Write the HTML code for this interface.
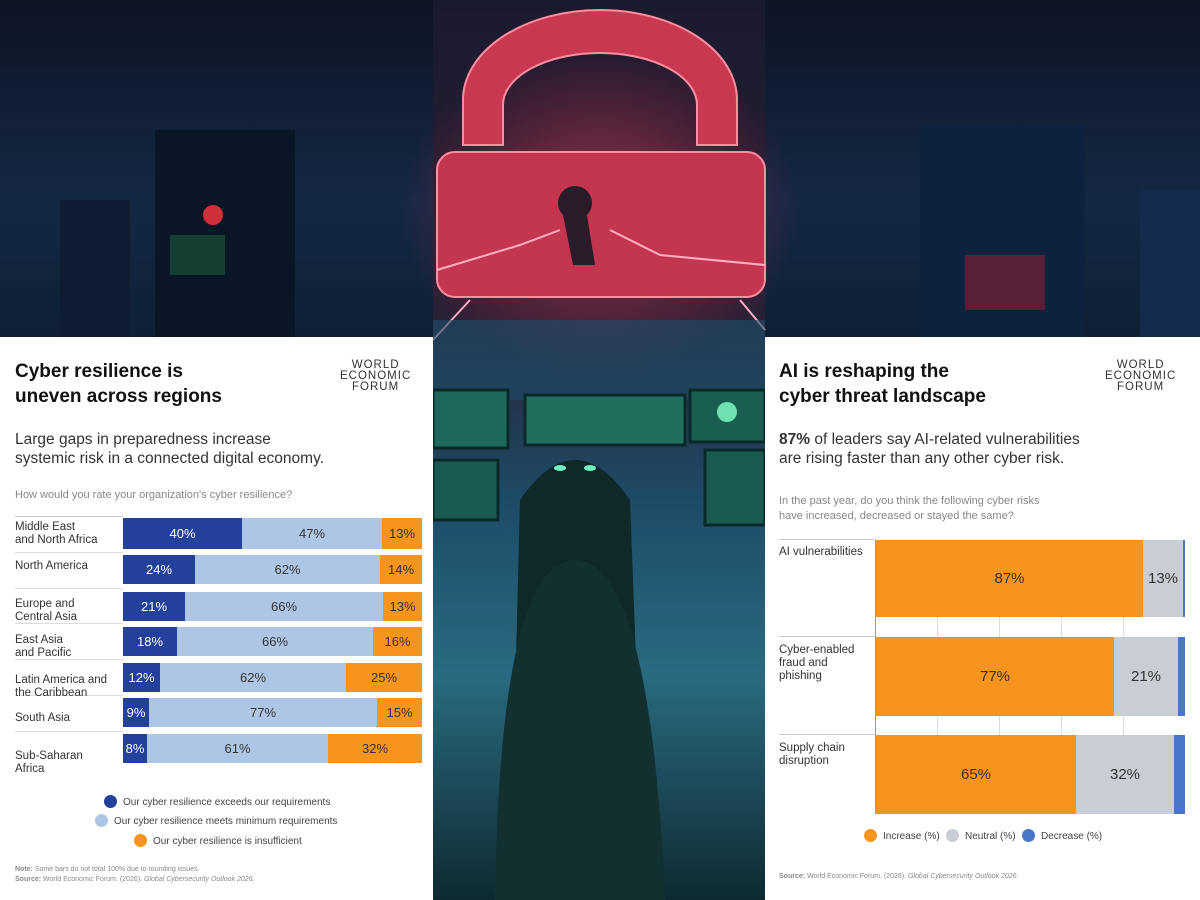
<!DOCTYPE html>
<html><head><meta charset="utf-8"><style>
*{margin:0;padding:0;box-sizing:border-box}
body{width:1200px;height:900px;position:relative;overflow:hidden;background:#0b1626;font-family:"Liberation Sans",sans-serif}
.panel{position:absolute;background:#fff;color:#111}
.abs{position:absolute}
.t{font-weight:bold;font-size:19px;line-height:25px;color:#111}
.sub{font-size:15.5px;line-height:19px;color:#333}
.q{font-size:11px;line-height:15px;color:#888}
.lbl{font-size:11.5px;line-height:13px;color:#333;position:absolute}
.seg{position:absolute;display:flex;align-items:center;justify-content:center;font-size:13px;color:#333}
.wef{position:absolute;font-size:11.5px;line-height:11px;letter-spacing:1px;text-align:center;color:#333}
.leg{font-size:10px;color:#444;position:absolute;white-space:nowrap}
.dot{display:inline-block;width:13px;height:13px;border-radius:50%;vertical-align:-3px;margin-right:6px}
.src{font-size:7px;color:#888;position:absolute;line-height:10px}
</style></head><body>
<svg class="abs" style="left:0;top:0" width="1200" height="900">
<defs>
<linearGradient id="sky" x1="0" y1="0" x2="0" y2="1"><stop offset="0" stop-color="#0e1424"/><stop offset="0.6" stop-color="#142844"/><stop offset="1" stop-color="#0f2034"/></linearGradient>
<linearGradient id="mid" x1="0" y1="0" x2="0" y2="1"><stop offset="0" stop-color="#1a1a2e"/><stop offset="0.35" stop-color="#2a2035"/><stop offset="0.55" stop-color="#1d4a66"/><stop offset="0.75" stop-color="#2a6a80"/><stop offset="1" stop-color="#0d2a30"/></linearGradient>
<radialGradient id="glow" cx="0.5" cy="0.5" r="0.5"><stop offset="0" stop-color="#ff5577" stop-opacity="0.5"/><stop offset="1" stop-color="#ff2244" stop-opacity="0"/></radialGradient>
</defs>
<rect width="1200" height="337" fill="url(#sky)"/>
<rect x="155" y="130" width="140" height="207" fill="#0a1626"/>
<rect x="60" y="200" width="70" height="137" fill="#0f1d33"/>
<rect x="920" y="125" width="165" height="212" fill="#0e2240"/>
<rect x="1140" y="190" width="60" height="147" fill="#132c4e"/>
<circle cx="213" cy="215" r="10" fill="#d0303a"/>
<rect x="170" y="235" width="55" height="40" fill="#1a5a3a" opacity="0.6"/>
<rect x="965" y="255" width="80" height="55" fill="#8a2030" opacity="0.6"/>
<rect x="433" y="0" width="332" height="900" fill="url(#mid)"/>
<ellipse cx="600" cy="210" rx="200" ry="170" fill="url(#glow)"/>
<path d="M463 145 L463 100 A137 90 0 0 1 737 100 L737 145 L697 145 L697 105 A97 52 0 0 0 503 105 L503 145 Z" fill="#c83850" stroke="#ff8fa0" stroke-width="2"/>
<rect x="437" y="152" width="328" height="145" rx="18" fill="#c43550" stroke="#ff8fa0" stroke-width="2"/>
<path d="M563 215 A17 17 0 1 1 587 215 L595 265 L573 265 Z" fill="#2a1a2a"/>
<path d="M437 270 L520 245 L560 230 M610 230 L660 255 L765 265 M470 300 L433 340 M740 300 L765 330" stroke="#ffb0c0" stroke-width="2" fill="none"/>
<rect x="433" y="320" width="332" height="80" fill="#1d4f6c" opacity="0.6"/>
<rect x="433" y="390" width="75" height="58" fill="#1d6a5c" stroke="#0a2a2a" stroke-width="3"/>
<rect x="525" y="395" width="160" height="50" fill="#1f6e5e" stroke="#0a2a2a" stroke-width="3"/>
<rect x="690" y="390" width="75" height="52" fill="#1a5e52" stroke="#0a2a2a" stroke-width="3"/>
<rect x="433" y="460" width="65" height="60" fill="#1a5a50" stroke="#0a2a2a" stroke-width="3"/>
<rect x="705" y="450" width="60" height="75" fill="#1a5a50" stroke="#0a2a2a" stroke-width="3"/>
<circle cx="727" cy="412" r="10" fill="#6fe0b0"/>
<path d="M510 900 L520 500 Q575 420 630 500 L645 900 Z" fill="#0f2828"/>
<path d="M495 900 Q500 560 575 560 Q650 560 665 900 Z" fill="#123030"/>
<ellipse cx="560" cy="468" rx="6" ry="3" fill="#6ff0c0"/><ellipse cx="590" cy="468" rx="6" ry="3" fill="#6ff0c0"/>
</svg>

<div class="panel" style="left:0;top:337px;width:433px;height:563px">
<div class="abs t" style="left:15px;top:22px">Cyber resilience is<br>uneven across regions</div>
<div class="wef" style="left:340px;top:23px">WORLD<br>ECONOMIC<br>FORUM</div>
<div class="abs sub" style="left:15px;top:93px">Large gaps in preparedness increase<br>systemic risk in a connected digital economy.</div>
<div class="abs q" style="left:15px;top:151px">How would you rate your organization's cyber resilience?</div>
</div>
<div class="panel" style="left:765px;top:337px;width:435px;height:563px">
<div class="abs t" style="left:14px;top:22px">AI is reshaping the<br>cyber threat landscape</div>
<div class="wef" style="left:340px;top:23px">WORLD<br>ECONOMIC<br>FORUM</div>
<div class="abs sub" style="left:14px;top:93px"><b>87%</b> of leaders say AI-related vulnerabilities<br>are rising faster than any other cyber risk.</div>
<div class="abs q" style="left:14px;top:157px">In the past year, do you think the following cyber risks<br>have increased, decreased or stayed the same?</div>
</div>

<!-- Left chart -->
<div class="abs" style="left:15px;top:516px;width:108px;border-top:1px solid #ccc"></div>
<div class="abs" style="left:15px;top:552px;width:108px;border-top:1px solid #ddd"></div>
<div class="abs" style="left:15px;top:588px;width:108px;border-top:1px solid #ddd"></div>
<div class="abs" style="left:15px;top:623px;width:108px;border-top:1px solid #ddd"></div>
<div class="abs" style="left:15px;top:659px;width:108px;border-top:1px solid #ddd"></div>
<div class="abs" style="left:15px;top:695px;width:108px;border-top:1px solid #ddd"></div>
<div class="abs" style="left:15px;top:731px;width:108px;border-top:1px solid #ddd"></div>
<div class="lbl" style="left:15px;top:521px">Middle East<br>and North Africa</div>
<div class="lbl" style="left:15px;top:560px">North America</div>
<div class="lbl" style="left:15px;top:598px">Europe and<br>Central Asia</div>
<div class="lbl" style="left:15px;top:634px">East Asia<br>and Pacific</div>
<div class="lbl" style="left:15px;top:674px">Latin America and<br>the Caribbean</div>
<div class="lbl" style="left:15px;top:712px">South Asia</div>
<div class="lbl" style="left:15px;top:750px">Sub-Saharan<br>Africa</div>

<div class="seg" style="left:123px;top:518px;width:119px;height:31px;background:#23409a;color:#fff">40%</div>
<div class="seg" style="left:242px;top:518px;width:140px;height:31px;background:#aec6e6">47%</div>
<div class="seg" style="left:382px;top:518px;width:40px;height:31px;background:#f7941d">13%</div>

<div class="seg" style="left:123px;top:555px;width:72px;height:29px;background:#23409a;color:#fff">24%</div>
<div class="seg" style="left:195px;top:555px;width:185px;height:29px;background:#aec6e6">62%</div>
<div class="seg" style="left:380px;top:555px;width:42px;height:29px;background:#f7941d">14%</div>

<div class="seg" style="left:123px;top:592px;width:62px;height:29px;background:#23409a;color:#fff">21%</div>
<div class="seg" style="left:185px;top:592px;width:198px;height:29px;background:#aec6e6">66%</div>
<div class="seg" style="left:383px;top:592px;width:39px;height:29px;background:#f7941d">13%</div>

<div class="seg" style="left:123px;top:627px;width:54px;height:29px;background:#23409a;color:#fff">18%</div>
<div class="seg" style="left:177px;top:627px;width:196px;height:29px;background:#aec6e6">66%</div>
<div class="seg" style="left:373px;top:627px;width:49px;height:29px;background:#f7941d">16%</div>

<div class="seg" style="left:123px;top:663px;width:37px;height:29px;background:#23409a;color:#fff">12%</div>
<div class="seg" style="left:160px;top:663px;width:186px;height:29px;background:#aec6e6">62%</div>
<div class="seg" style="left:346px;top:663px;width:76px;height:29px;background:#f7941d">25%</div>

<div class="seg" style="left:123px;top:698px;width:26px;height:29px;background:#23409a;color:#fff">9%</div>
<div class="seg" style="left:149px;top:698px;width:228px;height:29px;background:#aec6e6">77%</div>
<div class="seg" style="left:377px;top:698px;width:45px;height:29px;background:#f7941d">15%</div>

<div class="seg" style="left:123px;top:734px;width:24px;height:29px;background:#23409a;color:#fff">8%</div>
<div class="seg" style="left:147px;top:734px;width:181px;height:29px;background:#aec6e6">61%</div>
<div class="seg" style="left:328px;top:734px;width:94px;height:29px;background:#f7941d">32%</div>

<div class="leg" style="left:104px;top:795px"><span class="dot" style="background:#23409a"></span>Our cyber resilience exceeds our requirements</div>
<div class="leg" style="left:95px;top:814px"><span class="dot" style="background:#aec6e6"></span>Our cyber resilience meets minimum requirements</div>
<div class="leg" style="left:134px;top:834px"><span class="dot" style="background:#f7941d"></span>Our cyber resilience is insufficient</div>
<div class="src" style="left:15px;top:865px"><b>Note:</b> Some bars do not total 100% due to rounding issues.<br><b>Source:</b> World Economic Forum. (2026). <i>Global Cybersecurity Outlook 2026.</i></div>

<!-- Right chart -->
<div class="abs" style="left:779px;top:539px;width:96px;border-top:1px solid #ccc"></div>
<div class="abs" style="left:779px;top:636px;width:96px;border-top:1px solid #ccc"></div>
<div class="abs" style="left:779px;top:734px;width:96px;border-top:1px solid #ccc"></div>
<div class="lbl" style="left:779px;top:546px">AI vulnerabilities</div>
<div class="lbl" style="left:779px;top:644px">Cyber-enabled<br>fraud and<br>phishing</div>
<div class="lbl" style="left:779px;top:742px">Supply chain<br>disruption</div>
<div class="abs" style="left:875px;top:540px;height:274px;border-left:1px solid #999"></div>
<div class="abs" style="left:937px;top:617px;height:118px;border-left:1px solid #ddd"></div>
<div class="abs" style="left:999px;top:617px;height:118px;border-left:1px solid #ddd"></div>
<div class="abs" style="left:1061px;top:617px;height:118px;border-left:1px solid #ddd"></div>
<div class="abs" style="left:1123px;top:617px;height:118px;border-left:1px solid #ddd"></div>

<div class="seg" style="left:876px;top:540px;width:267px;height:77px;background:#f7941d;font-size:15px">87%</div>
<div class="seg" style="left:1143px;top:540px;width:40px;height:77px;background:#c9ced6;font-size:15px">13%</div>
<div class="seg" style="left:1183px;top:540px;width:2px;height:77px;background:#4a76c8"></div>

<div class="seg" style="left:876px;top:637px;width:238px;height:79px;background:#f7941d;font-size:15px">77%</div>
<div class="seg" style="left:1114px;top:637px;width:64px;height:79px;background:#c9ced6;font-size:15px">21%</div>
<div class="seg" style="left:1178px;top:637px;width:7px;height:79px;background:#4a76c8"></div>

<div class="seg" style="left:876px;top:735px;width:200px;height:79px;background:#f7941d;font-size:15px">65%</div>
<div class="seg" style="left:1076px;top:735px;width:98px;height:79px;background:#c9ced6;font-size:15px">32%</div>
<div class="seg" style="left:1174px;top:735px;width:11px;height:79px;background:#4a76c8"></div>

<div class="leg" style="left:864px;top:829px"><span class="dot" style="background:#f7941d"></span>Increase (%)</div>
<div class="leg" style="left:946px;top:829px"><span class="dot" style="background:#c9ced6"></span>Neutral (%)</div>
<div class="leg" style="left:1022px;top:829px"><span class="dot" style="background:#4a76c8"></span>Decrease (%)</div>
<div class="src" style="left:779px;top:872px"><b>Source:</b> World Economic Forum. (2026). <i>Global Cybersecurity Outlook 2026.</i></div>
</body></html>
